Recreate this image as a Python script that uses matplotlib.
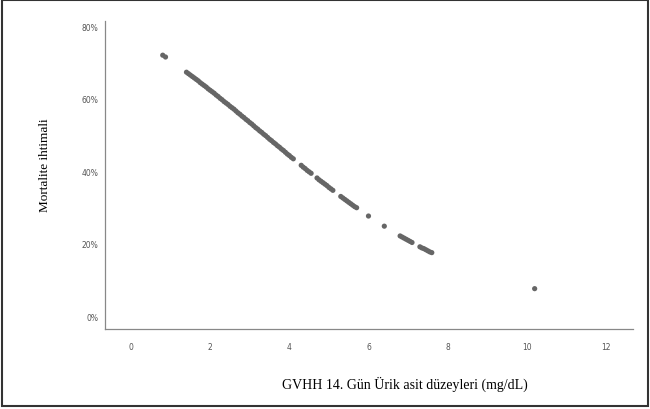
import matplotlib
matplotlib.use('Agg')
import matplotlib.pyplot as plt
from matplotlib.patches import Rectangle

# uric acid level (mg/dL) vs. predicted mortality probability
uric_acid = [0.8, 0.87,
             1.4, 1.45, 1.5, 1.55, 1.6, 1.65, 1.7, 1.75, 1.8, 1.85, 1.9, 1.95,
             2.0, 2.05, 2.1, 2.15, 2.2, 2.25, 2.3, 2.35, 2.4, 2.45, 2.5, 2.55,
             2.6, 2.65, 2.7, 2.75, 2.8, 2.85, 2.9, 2.95, 3.0, 3.05, 3.1, 3.15,
             3.2, 3.25, 3.3, 3.35, 3.4, 3.45, 3.5, 3.55, 3.6, 3.65, 3.7, 3.75,
             3.8, 3.85, 3.9, 3.95, 4.0, 4.05, 4.1,
             4.3, 4.35, 4.4, 4.45, 4.5, 4.55,
             4.7, 4.75, 4.8, 4.85, 4.9, 4.95, 5.0, 5.05, 5.1,
             5.3, 5.35, 5.4, 5.45, 5.5, 5.55, 5.6, 5.65, 5.7,
             6.0, 6.4,
             6.8, 6.85, 6.9, 6.95, 7.0, 7.05, 7.1,
             7.3, 7.35, 7.4, 7.45, 7.5, 7.55, 7.6,
             10.2]
mortality = [0.720, 0.715,
             0.673, 0.669, 0.665, 0.661, 0.657, 0.653, 0.649, 0.644, 0.640, 0.636,
             0.632, 0.627, 0.623, 0.619, 0.615, 0.610, 0.606, 0.601, 0.597, 0.592,
             0.588, 0.584, 0.579, 0.575, 0.571, 0.566, 0.561, 0.557, 0.552, 0.548,
             0.543, 0.539, 0.534, 0.530, 0.525, 0.520, 0.516, 0.511, 0.507, 0.502,
             0.498, 0.493, 0.488, 0.484, 0.479, 0.475, 0.470, 0.466, 0.461, 0.457,
             0.452, 0.447, 0.443, 0.438, 0.434,
             0.416, 0.411, 0.407, 0.402, 0.398, 0.394,
             0.381, 0.376, 0.372, 0.368, 0.364, 0.360, 0.355, 0.351, 0.347,
             0.330, 0.326, 0.322, 0.318, 0.314, 0.310, 0.306, 0.302, 0.299,
             0.276, 0.248,
             0.221, 0.218, 0.215, 0.212, 0.209, 0.206, 0.203,
             0.191, 0.188, 0.186, 0.183, 0.180, 0.177, 0.175,
             0.0755]

xticks = [0, 2, 4, 6, 8, 10, 12]
yticks = [0, 0.2, 0.4, 0.6, 0.8]
ytick_labels = ['0%', '20%', '40%', '60%', '80%']

fig = plt.figure(figsize=(6.5, 4.1), dpi=100)
ax = fig.add_axes([0.1615, 0.195, 0.812, 0.751])

ax.scatter(uric_acid, mortality, s=14, color='#666666', edgecolors='none', zorder=3)

ax.set_xlim(-0.66, 12.68)
ax.set_ylim(-0.036, 0.814)
ax.set_xticks(xticks)
ax.set_xticklabels([str(t) for t in xticks])
ax.set_yticks(yticks)
ax.set_yticklabels(ytick_labels)
ax.tick_params(length=0, labelsize=5.5, labelcolor='#555555')
ax.tick_params(axis='x', pad=9)
ax.tick_params(axis='y', pad=5)

for s in ['top', 'right']:
    ax.spines[s].set_visible(False)
for s in ['left', 'bottom']:
    ax.spines[s].set_color('#888888')
    ax.spines[s].set_linewidth(0.9)

fig.text(45 / 650, 1 - 165 / 410, 'Mortalite ihtimali', rotation=90,
         ha='center', va='center', fontsize=9.5, family='Liberation Serif')
fig.text(405 / 650, 1 - 384 / 410, 'GVHH 14. Gün Ürik asit düzeyleri (mg/dL)',
         ha='center', va='center', fontsize=10, family='Liberation Serif')

# page frame around the picture
fig.patches.append(Rectangle((0.003, 0.008), 0.994, 0.99, transform=fig.transFigure,
                             fill=False, edgecolor='#333333', linewidth=1.5))

fig.savefig('out.png', dpi=100)
